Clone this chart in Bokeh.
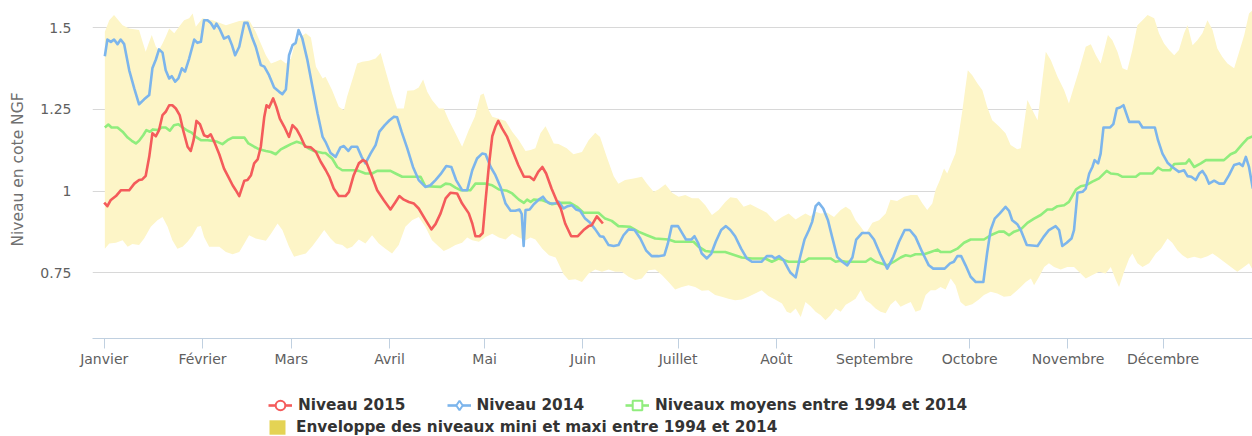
from bokeh.plotting import figure
from bokeh.layouts import column
from bokeh.models import Range1d, FixedTicker, NumeralTickFormatter, Legend, LegendItem
from bokeh.embed import file_html
from bokeh.resources import INLINE

# ---------------- data (day of year, level in m NGF) ----------------
month_start_days = [0, 31, 59, 90, 120, 151, 181, 212, 243, 273, 304, 334]
month_labels = ["Janvier", "Février", "Mars", "Avril", "Mai", "Juin", "Juillet",
                "Août", "Septembre", "Octobre", "Novembre", "Décembre"]
y_ticks = [0.75, 1.0, 1.25, 1.5]

niveau_2015 = [
    (0, 0.965), (1, 0.954), (2, 0.972), (3.7, 0.985), (5.3, 1.003), (7.9, 1.003), (9.5, 1.023),
    (11, 1.034), (12, 1.036), (13.1, 1.047), (14.2, 1.105), (15.2, 1.177), (16.3, 1.168),
    (17.3, 1.187), (18.4, 1.233), (19.4, 1.243), (20.5, 1.263), (21.5, 1.263), (22.6, 1.253),
    (23.8, 1.233), (24.9, 1.187), (26.3, 1.136), (27.3, 1.123), (28.2, 1.156), (29.1, 1.215),
    (30.2, 1.205), (31.5, 1.171), (32.6, 1.166), (33.6, 1.174), (34.7, 1.151), (36.3, 1.113),
    (37.8, 1.069), (39.4, 1.039), (40.5, 1.018), (41.5, 1.003), (42.6, 0.985), (44.2, 1.032),
    (45.2, 1.034), (46.3, 1.049), (47.3, 1.085), (48.4, 1.097), (49.4, 1.136), (50.5, 1.228),
    (51.2, 1.263), (52, 1.256), (53.3, 1.284), (54.3, 1.258), (55.4, 1.222), (56.8, 1.197),
    (58.3, 1.166), (59.4, 1.202), (60.7, 1.189), (62, 1.166), (63.4, 1.136), (65.2, 1.134),
    (66.8, 1.120), (68.3, 1.090), (69.9, 1.064), (71, 1.044), (72.4, 1.008), (74, 0.985),
    (76.1, 0.985), (77.2, 0.998), (78.7, 1.049), (80.3, 1.085), (81.6, 1.095), (82.6, 1.090),
    (84.5, 1.044), (86.1, 1.003), (88.2, 0.972), (90.3, 0.944), (91.9, 0.967), (93.1, 0.985),
    (94.5, 0.974), (96.1, 0.967), (97.7, 0.962), (99.2, 0.947), (101.3, 0.913), (103.2, 0.883),
    (104.5, 0.899), (106.1, 0.932), (107.7, 0.978), (109.2, 0.995), (111.3, 0.993), (112.9, 0.962),
    (115, 0.932), (116.1, 0.901), (117.1, 0.862), (118.4, 0.862), (119.4, 0.872), (120.3, 0.972),
    (121.3, 1.074), (122.4, 1.168), (123.4, 1.197), (124.3, 1.215), (125.5, 1.192), (127.1, 1.166),
    (128.7, 1.126), (130.6, 1.080), (132.4, 1.044), (134.2, 1.044), (135.5, 1.034), (136.9, 1.059),
    (138.2, 1.074), (139.4, 1.054), (141.1, 1.008), (142.9, 0.967), (144, 0.947), (145.4, 0.901),
    (147.3, 0.862), (149.4, 0.862), (151.2, 0.881), (152.8, 0.893), (153.8, 0.896), (155.4, 0.923),
    (157.3, 0.901),
]

niveau_2014 = [
    (0.2, 1.413), (1, 1.464), (2.1, 1.457), (3.1, 1.464), (4.2, 1.450), (5.2, 1.464), (6.3, 1.450),
    (7.9, 1.370), (9.5, 1.314), (11, 1.266), (12.6, 1.281), (14.2, 1.294), (15.2, 1.376),
    (16.3, 1.403), (17.3, 1.434), (18.4, 1.424), (19.4, 1.370), (20.5, 1.345), (21.3, 1.352),
    (22.4, 1.335), (23.4, 1.345), (24.5, 1.376), (25.5, 1.366), (26.8, 1.406), (28.4, 1.464),
    (29.4, 1.454), (30.5, 1.457), (31.5, 1.523), (32.6, 1.523), (33.6, 1.515), (34.7, 1.498),
    (35.4, 1.513), (36.5, 1.495), (37.8, 1.467), (39.2, 1.474), (40.3, 1.447), (41.3, 1.416),
    (42.6, 1.442), (44.2, 1.515), (45.2, 1.515), (46.6, 1.472), (47.8, 1.442), (49.4, 1.386),
    (50.5, 1.381), (52, 1.355), (53.6, 1.317), (55.2, 1.304), (56.2, 1.297), (57.3, 1.311),
    (58.3, 1.416), (59.4, 1.447), (60.4, 1.454), (61.3, 1.493), (62.5, 1.467), (64.1, 1.401),
    (65.7, 1.319), (67.3, 1.238), (68.9, 1.166), (69.8, 1.151), (71.4, 1.117), (73, 1.105),
    (74.5, 1.134), (75.6, 1.138), (77, 1.123), (78, 1.136), (79.8, 1.136), (81.2, 1.105),
    (82.4, 1.085), (84, 1.115), (85.6, 1.141), (86.8, 1.182), (88.5, 1.202), (90, 1.217),
    (91.4, 1.228), (92.4, 1.226), (93.8, 1.182), (95.6, 1.131), (97.4, 1.074), (99.2, 1.034),
    (101.3, 1.013), (102.9, 1.018), (104.5, 1.034), (106.1, 1.052), (107.9, 1.077), (109.5, 1.074),
    (111, 1.034), (112.9, 1.003), (114.5, 1.003), (116.1, 1.064), (117.6, 1.100), (119.2, 1.115),
    (120.3, 1.113), (121.9, 1.074), (123.4, 1.049), (125, 1.013), (126.6, 0.962), (128.2, 0.940),
    (129.7, 0.940), (131, 0.944), (131.7, 0.930), (132.3, 0.832), (132.9, 0.942), (134.2, 0.944),
    (135.5, 0.960), (137.1, 0.974), (138.4, 0.983), (139.4, 0.970), (140.5, 0.962), (142.5, 0.963),
    (143.3, 0.968), (144.9, 0.947), (146.2, 0.954), (147.5, 0.957), (148.8, 0.944), (150.1, 0.940),
    (151.7, 0.916), (153.3, 0.903), (154.9, 0.883), (156.4, 0.862), (157.5, 0.860), (159.1, 0.835),
    (160.7, 0.832), (162.2, 0.835), (163.8, 0.865), (165.4, 0.883), (167.3, 0.881), (169.1, 0.855),
    (170.9, 0.819), (172.7, 0.801), (174.8, 0.801), (176.7, 0.804), (177.8, 0.840), (179, 0.893),
    (181, 0.893), (182.4, 0.870), (183.5, 0.852), (185.2, 0.852), (186.2, 0.862), (187.3, 0.842),
    (188.5, 0.809), (190.1, 0.794), (191.5, 0.809), (192.9, 0.845), (194.6, 0.881), (196.1, 0.893),
    (197.5, 0.881), (199, 0.862), (200.9, 0.824), (202.7, 0.794), (204.3, 0.784), (207.4, 0.784),
    (209, 0.801), (210.6, 0.801), (211.6, 0.794), (212.9, 0.801), (214.3, 0.789), (215.9, 0.760),
    (216.5, 0.750), (218.1, 0.736), (219.4, 0.794), (220.9, 0.852), (222.3, 0.881), (223.3, 0.906),
    (224.4, 0.954), (225.4, 0.964), (226.8, 0.947), (228.3, 0.911), (229.6, 0.860), (231.2, 0.799),
    (232.8, 0.784), (234.4, 0.773), (236, 0.797), (237.2, 0.852), (239.1, 0.872), (241.2, 0.872),
    (242.8, 0.852), (244.7, 0.809), (247, 0.763), (248.9, 0.799), (250.7, 0.845), (252.5, 0.881),
    (254.1, 0.881), (255.9, 0.860), (258, 0.814), (260.1, 0.773), (261.5, 0.763), (265.1, 0.763),
    (266.8, 0.779), (268, 0.784), (269.1, 0.801), (270.3, 0.801), (271.7, 0.773), (273.3, 0.738),
    (274.9, 0.722), (277.3, 0.722), (278.5, 0.811), (279.6, 0.881), (280.9, 0.916), (282.5, 0.932),
    (284.3, 0.952), (285.4, 0.940), (286.4, 0.911), (288, 0.899), (289.1, 0.881), (291, 0.835),
    (294.4, 0.832), (296.3, 0.860), (298, 0.881), (300.1, 0.893), (301.2, 0.881), (302.2, 0.832),
    (303.6, 0.842), (305.1, 0.855), (305.9, 0.881), (307, 0.995), (308.6, 0.998), (309.6, 1.008),
    (310.7, 1.054), (311.7, 1.074), (312.4, 1.095), (313.5, 1.085), (314.3, 1.115), (315.2, 1.195),
    (317.3, 1.195), (318.3, 1.205), (319.4, 1.253), (320.4, 1.256), (321.5, 1.263), (323.3, 1.212),
    (326.4, 1.212), (327.5, 1.195), (331.4, 1.195), (332.4, 1.156), (333.8, 1.115), (335.4, 1.087),
    (336.9, 1.074), (339, 1.059), (340.6, 1.064), (341.7, 1.046), (342.9, 1.044), (344.3, 1.034),
    (345.4, 1.054), (346.4, 1.062), (347.5, 1.046), (348.5, 1.023), (350.1, 1.032), (351.7, 1.023),
    (353.2, 1.023), (354.8, 1.049), (356.4, 1.080), (358, 1.085), (359.1, 1.077), (360.1, 1.105),
    (361.1, 1.074), (362.3, 1.008),
]

niveaux_moyens = [
    (0.2, 1.195), (1.3, 1.204), (2.3, 1.195), (4.2, 1.195), (5.8, 1.182), (7.4, 1.164), (8.7, 1.154),
    (10, 1.146), (11, 1.154), (12.3, 1.171), (13.3, 1.187), (14.4, 1.182), (15.4, 1.189),
    (16.8, 1.187), (18.2, 1.195), (19.4, 1.195), (20.7, 1.185), (22, 1.202), (23.4, 1.205),
    (24.7, 1.195), (26.3, 1.185), (27.6, 1.179), (28.9, 1.166), (30.5, 1.156), (32.6, 1.156),
    (34.4, 1.154), (35.7, 1.151), (37.3, 1.144), (38.9, 1.156), (40.5, 1.164), (44.2, 1.164),
    (45.5, 1.146), (47.3, 1.136), (48.9, 1.128), (51, 1.123), (52.6, 1.120), (54.1, 1.113),
    (55.7, 1.128), (57.3, 1.136), (58.9, 1.144), (60.7, 1.151), (62.5, 1.146), (64.4, 1.131),
    (66.2, 1.123), (68.9, 1.117), (69.8, 1.117), (71.9, 1.100), (73.5, 1.074), (75.1, 1.064),
    (78.7, 1.064), (80.3, 1.062), (82.4, 1.054), (84.5, 1.054), (86.1, 1.062), (90.3, 1.062),
    (91.9, 1.054), (94, 1.044), (99.8, 1.044), (101.3, 1.015), (106.1, 1.013), (107.7, 1.023),
    (109.2, 1.021), (110.8, 1.011), (112.4, 1.003), (115.5, 1.003), (117.1, 1.023), (120.3, 1.023),
    (122.4, 1.018), (124.5, 1.005), (127.1, 1.001), (128.7, 0.993), (130.8, 0.974), (132.4, 0.964),
    (133.4, 0.974), (134.5, 0.967), (135.5, 0.974), (138.2, 0.972), (139.7, 0.967), (141.3, 0.960),
    (143.3, 0.964), (147, 0.964), (149.1, 0.952), (151.2, 0.934), (155.9, 0.934), (158, 0.916),
    (160.1, 0.909), (162.2, 0.893), (165.9, 0.891), (168.5, 0.876), (171.2, 0.865), (173.8, 0.855),
    (178, 0.852), (180.1, 0.845), (185.9, 0.845), (187.5, 0.830), (189.6, 0.817), (192.2, 0.814),
    (195.9, 0.814), (198, 0.807), (201.1, 0.797), (204.3, 0.794), (208.5, 0.794), (210.6, 0.784),
    (212.7, 0.794), (215.9, 0.784), (220.7, 0.784), (222.3, 0.794), (229.1, 0.794), (230.7, 0.784),
    (232.3, 0.787), (233.9, 0.784), (240.2, 0.784), (241.7, 0.794), (243.3, 0.784), (247, 0.773),
    (249.1, 0.784), (251.2, 0.797), (252.8, 0.804), (254.4, 0.801), (255.9, 0.807), (258.6, 0.807),
    (260.7, 0.814), (262.8, 0.821), (263.8, 0.814), (267, 0.814), (269.1, 0.824), (271.2, 0.842),
    (273.3, 0.852), (277.5, 0.852), (279.6, 0.865), (282.2, 0.876), (283.8, 0.876), (285.4, 0.865),
    (287, 0.876), (289.1, 0.883), (291.2, 0.903), (293.3, 0.916), (295.4, 0.927), (297.5, 0.944),
    (299.1, 0.944), (300.7, 0.954), (302.8, 0.957), (304.3, 0.967), (306.5, 1.005), (308, 1.015),
    (309.6, 1.018), (311.7, 1.029), (313.8, 1.039), (316.2, 1.062), (317.5, 1.054), (319.6, 1.052),
    (321.2, 1.044), (325.4, 1.044), (326.7, 1.054), (330.6, 1.054), (332.4, 1.072), (333.8, 1.064),
    (336.2, 1.064), (337.5, 1.083), (341.2, 1.085), (342.2, 1.097), (343.8, 1.074), (345.9, 1.085),
    (347.5, 1.095), (353.2, 1.095), (355.3, 1.113), (356.9, 1.120), (359, 1.144), (360.6, 1.161),
    (362.3, 1.168),
]

enveloppe_maxi = [
    (0.2, 1.488), (1.6, 1.523), (3.1, 1.539), (5.8, 1.508), (7.9, 1.498), (11, 1.493), (12.1, 1.457),
    (13.1, 1.427), (14, 1.452), (15, 1.478), (16.3, 1.442), (17.3, 1.432), (18.4, 1.452),
    (19.4, 1.473), (20.5, 1.498), (22.1, 1.483), (23.6, 1.503), (25.2, 1.523), (26.8, 1.529),
    (27.9, 1.544), (28.9, 1.503), (31, 1.529), (34.2, 1.523), (38.4, 1.508), (42.6, 1.521),
    (45.7, 1.523), (47.8, 1.488), (49.4, 1.452), (51, 1.416), (52.6, 1.391), (54.1, 1.396),
    (55.7, 1.403), (57.3, 1.391), (58.9, 1.406), (60.4, 1.462), (63.6, 1.483), (65.2, 1.470),
    (66.8, 1.381), (68.9, 1.345), (69.8, 1.350), (71.9, 1.309), (74, 1.258), (75.6, 1.248),
    (76.6, 1.289), (78.7, 1.355), (79.8, 1.391), (81.4, 1.396), (83.5, 1.399), (85.6, 1.406),
    (87.2, 1.423), (88.7, 1.370), (90.8, 1.299), (92.4, 1.253), (94.5, 1.253), (95.6, 1.307),
    (97.7, 1.309), (99.2, 1.317), (100.6, 1.342), (101.9, 1.304), (103.4, 1.279), (105.6, 1.253),
    (107.1, 1.253), (108.7, 1.217), (110.8, 1.177), (112.9, 1.136), (115, 1.187), (116.9, 1.228),
    (118.7, 1.294), (119.7, 1.299), (121.3, 1.248), (122.4, 1.228), (124.5, 1.222), (126.6, 1.215),
    (128.7, 1.182), (130.8, 1.156), (132.9, 1.123), (134.5, 1.126), (136, 1.131), (137.6, 1.177),
    (139.2, 1.199), (140.3, 1.177), (141.8, 1.146), (143.3, 1.144), (145.9, 1.131), (148, 1.113),
    (150.7, 1.120), (152.8, 1.156), (154.9, 1.179), (156.4, 1.166), (158.5, 1.105), (160.7, 1.046),
    (162.2, 1.023), (164.3, 1.034), (167, 1.039), (169.6, 1.044), (171.2, 1.023), (173.3, 0.998),
    (174.8, 1.005), (177, 1.021), (179.1, 0.995), (181.2, 0.983), (183.3, 0.988), (185.4, 0.978),
    (187.5, 0.978), (189.6, 0.957), (191.7, 0.927), (193.8, 0.942), (195.9, 0.967), (197.5, 0.981),
    (199.6, 0.978), (201.7, 0.952), (203.8, 0.960), (206.4, 0.947), (209, 0.934), (211.6, 0.906),
    (213.8, 0.921), (215.9, 0.932), (218.1, 0.913), (219.7, 0.923), (221.2, 0.932), (222.8, 0.923),
    (224.4, 0.937), (226, 0.932), (228.1, 0.934), (230.2, 0.921), (232.3, 0.942), (233.9, 0.952),
    (235.4, 0.942), (237, 0.911), (238.6, 0.891), (240.2, 0.870), (242.3, 0.903), (244.4, 0.911),
    (246.5, 0.932), (248, 0.974), (250.1, 0.970), (252.3, 0.983), (254.4, 0.988), (256.5, 0.988),
    (258, 0.964), (259.6, 0.942), (261.2, 0.962), (262.2, 1.003), (263.6, 1.034), (264.9, 1.069),
    (265.9, 1.054), (267, 1.080), (268.5, 1.115), (269.6, 1.177), (270.7, 1.248), (271.7, 1.321),
    (272.4, 1.370), (273.8, 1.355), (275.4, 1.330), (277, 1.309), (278.5, 1.258), (280.1, 1.217),
    (282.2, 1.199), (284.3, 1.177), (285.9, 1.141), (288, 1.128), (289.1, 1.131), (291.2, 1.279),
    (292.8, 1.248), (294.4, 1.217), (295.4, 1.299), (297, 1.427), (298.6, 1.401), (300.7, 1.350),
    (302.8, 1.309), (304.3, 1.268), (305.4, 1.304), (307.5, 1.370), (309.6, 1.442), (311.2, 1.450),
    (312.8, 1.416), (314.3, 1.391), (315.4, 1.432), (316.6, 1.478), (318, 1.462), (319.6, 1.427),
    (321.2, 1.376), (322.7, 1.370), (324.3, 1.432), (325.9, 1.508), (327.5, 1.523), (329.1, 1.539),
    (331.2, 1.529), (332.7, 1.483), (334.3, 1.452), (335.9, 1.432), (337.5, 1.416), (339, 1.432),
    (340.6, 1.483), (341.7, 1.508), (343.3, 1.447), (344.8, 1.462), (346.4, 1.483), (348, 1.523),
    (349.6, 1.493), (351.1, 1.437), (352.7, 1.411), (354.3, 1.391), (356.4, 1.376), (358, 1.427),
    (359.6, 1.478), (361.1, 1.544), (362.3, 1.554),
]

enveloppe_mini = [
    (0.2, 0.824), (1.6, 0.840), (3.7, 0.842), (5.8, 0.850), (7.4, 0.830), (8.9, 0.838), (11, 0.835),
    (12.6, 0.855), (14.7, 0.891), (16.8, 0.911), (18.4, 0.921), (20, 0.891), (21.5, 0.850),
    (23.1, 0.824), (24.7, 0.830), (26.3, 0.845), (27.9, 0.865), (29.4, 0.891), (30.5, 0.893),
    (31.5, 0.860), (33.1, 0.830), (36.3, 0.830), (38.4, 0.814), (40.5, 0.807), (42.6, 0.814),
    (44.2, 0.840), (45.7, 0.865), (47.8, 0.855), (51, 0.848), (52.6, 0.870), (54.7, 0.901),
    (56.2, 0.881), (58.3, 0.830), (59.9, 0.799), (61.5, 0.804), (63.6, 0.809), (65.7, 0.832),
    (67.8, 0.860), (69.4, 0.881), (71.4, 0.855), (73, 0.840), (75.1, 0.835), (76.6, 0.824),
    (78.2, 0.830), (80.3, 0.852), (82.4, 0.840), (84.5, 0.865), (86.6, 0.840), (88.7, 0.824),
    (90.8, 0.809), (92.9, 0.835), (95, 0.891), (97.1, 0.911), (99.2, 0.921), (101.3, 0.891),
    (103.4, 0.850), (105.6, 0.830), (107.1, 0.817), (108.7, 0.824), (110.8, 0.835), (112.9, 0.842),
    (114.5, 0.858), (116.1, 0.850), (118.2, 0.845), (120.3, 0.860), (122.4, 0.870), (124.5, 0.858),
    (126.6, 0.852), (128.7, 0.870), (130.8, 0.858), (132.9, 0.850), (134.5, 0.858), (136, 0.852),
    (138.2, 0.824), (140.3, 0.804), (142.4, 0.797), (144.9, 0.746), (146.5, 0.728), (148.6, 0.730),
    (150.7, 0.722), (152.8, 0.748), (154.9, 0.760), (157, 0.753), (159.1, 0.760), (161.2, 0.753),
    (163.3, 0.753), (165.4, 0.738), (167.5, 0.728), (169.6, 0.733), (171.7, 0.758), (173.8, 0.760),
    (175.9, 0.743), (178, 0.722), (180.1, 0.699), (182.2, 0.707), (184.3, 0.712), (186.4, 0.707),
    (188.5, 0.695), (190.6, 0.697), (192.7, 0.682), (194.8, 0.677), (196.9, 0.671), (199, 0.666),
    (201.1, 0.668), (203.2, 0.677), (205.3, 0.687), (207.4, 0.697), (209.5, 0.679), (211.6, 0.668),
    (213.8, 0.656), (215.3, 0.631), (216.5, 0.626), (218.1, 0.641), (219.7, 0.615), (221.2, 0.661),
    (222.8, 0.648), (224.4, 0.631), (226, 0.620), (227.5, 0.605), (229.1, 0.620), (230.7, 0.641),
    (232.3, 0.631), (233.9, 0.652), (235.4, 0.661), (237, 0.671), (238.6, 0.697), (240.2, 0.666),
    (241.7, 0.656), (243.3, 0.641), (244.9, 0.631), (246.5, 0.626), (248, 0.652), (249.6, 0.666),
    (251.2, 0.646), (252.8, 0.654), (254.4, 0.661), (255.9, 0.631), (257.5, 0.636), (259.1, 0.682),
    (260.7, 0.697), (262.2, 0.697), (263.8, 0.707), (265.4, 0.699), (267, 0.733), (268.5, 0.712),
    (270.1, 0.661), (271.7, 0.648), (273.8, 0.654), (275.9, 0.668), (277.5, 0.682), (279.6, 0.692),
    (281.7, 0.687), (283.8, 0.677), (285.9, 0.679), (288, 0.697), (289.1, 0.707), (290.7, 0.722),
    (292.3, 0.733), (293.3, 0.712), (294.9, 0.738), (296.5, 0.768), (298, 0.779), (299.6, 0.768),
    (301.7, 0.760), (303.8, 0.768), (305.9, 0.768), (308, 0.748), (309.6, 0.733), (311.7, 0.743),
    (313.8, 0.753), (315.9, 0.748), (317.5, 0.768), (319.1, 0.728), (320.1, 0.707), (321.7, 0.753),
    (323.3, 0.794), (324.3, 0.809), (325.9, 0.779), (327.5, 0.768), (329.6, 0.779), (331.7, 0.809),
    (333.3, 0.824), (335.4, 0.855), (336.9, 0.842), (338.5, 0.819), (340.1, 0.804), (341.7, 0.794),
    (343.8, 0.799), (345.9, 0.794), (348, 0.801), (349.6, 0.809), (351.1, 0.799), (353.2, 0.784),
    (355.4, 0.768), (357.4, 0.753), (359.5, 0.768), (361.1, 0.779), (362.3, 0.758),
]

# ---------------- styling ----------------
RED = "#F45B5B"
BLUE = "#7CB5EC"
GREEN = "#90ED7D"
BAND = "#FDF5C7"
BAND_LEGEND = "#E4D354"
FONT = "DejaVu Sans"


def split(pairs):
    return [d for d, _ in pairs], [v for _, v in pairs]


r_x, r_y = split(niveau_2015)
b_x, b_y = split(niveau_2014)
g_x, g_y = split(niveaux_moyens)
hi_x, hi_y = split(enveloppe_maxi)
lo_x, lo_y = split(enveloppe_mini)
band_x = hi_x + lo_x[::-1]
band_y = hi_y + lo_y[::-1]

# ---------------- main chart ----------------
p = figure(width=1252, height=380, output_backend="svg", toolbar_location=None,
           x_range=Range1d(-3.69, 362.2), y_range=Range1d(0.549, 1.5836),
           min_border_left=92, min_border_right=0, min_border_top=0, min_border_bottom=42)
p.outline_line_color = None

p.patch(band_x, band_y, fill_color=BAND, line_color=None)
p.line(g_x, g_y, line_color=GREEN, line_width=2.6, line_join="round")
p.line(b_x, b_y, line_color=BLUE, line_width=2.6, line_join="round")
p.line(r_x, r_y, line_color=RED, line_width=2.6, line_join="round")

xa = p.xaxis[0]
xa.ticker = FixedTicker(ticks=month_start_days)
xa.major_label_overrides = dict(zip(month_start_days, month_labels))
xa.axis_line_color = "#C0D0E0"
xa.major_tick_line_color = "#C0D0E0"
xa.minor_tick_line_color = None
xa.major_tick_out = 10
xa.major_tick_in = 0
xa.major_label_standoff = 2
xa.major_label_text_font = FONT
xa.major_label_text_font_size = "14px"
xa.major_label_text_color = "#606060"

ya = p.yaxis[0]
ya.ticker = FixedTicker(ticks=y_ticks)
ya.formatter = NumeralTickFormatter(format="0.[00]")
ya.axis_line_color = None
ya.major_tick_line_color = None
ya.minor_tick_line_color = None
ya.major_tick_out = 0
ya.major_tick_in = 0
ya.major_label_standoff = 21
ya.major_label_text_font = FONT
ya.major_label_text_font_size = "14px"
ya.major_label_text_color = "#606060"
ya.axis_label = "Niveau en cote NGF"
ya.axis_label_text_font = FONT
ya.axis_label_text_font_style = "normal"
ya.axis_label_text_font_size = "15.5px"
ya.axis_label_text_color = "#707070"
ya.axis_label_standoff = 10

p.xgrid.grid_line_color = None
p.ygrid.grid_line_color = "#D8D8D8"
p.ygrid.grid_line_width = 1

# ---------------- legend strip (its proxy glyphs fall outside its own ranges) ----------------
lg = figure(width=1252, height=56, output_backend="svg", toolbar_location=None,
            x_range=Range1d(1000, 1001), y_range=Range1d(1000, 1001),
            x_axis_location=None, y_axis_location=None,
            min_border_left=0, min_border_right=0, min_border_top=0, min_border_bottom=0)
lg.outline_line_color = None
lg.grid.visible = False

l_r = lg.line(r_x, r_y, line_color=RED, line_width=2.6)
m_r = lg.scatter(r_x, r_y, marker="circle", size=9, fill_color="white", line_color=RED, line_width=2)
l_b = lg.line(b_x, b_y, line_color=BLUE, line_width=2.6)
m_b = lg.scatter(b_x, b_y, marker="diamond", size=12, fill_color="white", line_color=BLUE, line_width=2)
l_g = lg.line(g_x, g_y, line_color=GREEN, line_width=2.6)
m_g = lg.scatter(g_x, g_y, marker="square", size=9, fill_color="white", line_color=GREEN, line_width=2)
a_e = lg.patch(band_x, band_y, fill_color=BAND_LEGEND, line_color=None)

legend_style = dict(label_text_font=FONT, label_text_font_style="bold",
                    label_text_font_size="15.3px", label_text_color="#333333",
                    background_fill_alpha=0, border_line_color=None, padding=0, margin=0)

# legend positions are measured from the strip's frame, which the column aligns with the chart's frame
leg1 = Legend(items=[LegendItem(label="Niveau 2015", renderers=[l_r, m_r]),
                     LegendItem(label="Niveau 2014", renderers=[l_b, m_b]),
                     LegendItem(label="Niveaux moyens entre 1994 et 2014", renderers=[l_g, m_g])],
              orientation="horizontal", location=(176, 19), spacing=41,
              glyph_width=24, glyph_height=24, label_height=24, label_standoff=6,
              **legend_style)
leg2 = Legend(items=[LegendItem(label="Enveloppe des niveaux mini et maxi entre 1994 et 2014",
                                renderers=[a_e])],
              orientation="horizontal", location=(175, 0),
              glyph_width=20, glyph_height=18, label_height=18, label_standoff=9,
              **legend_style)
lg.add_layout(leg1)
lg.add_layout(leg2)

layout = column(p, lg, spacing=0)
open("out.html", "w").write(file_html(layout, INLINE))
